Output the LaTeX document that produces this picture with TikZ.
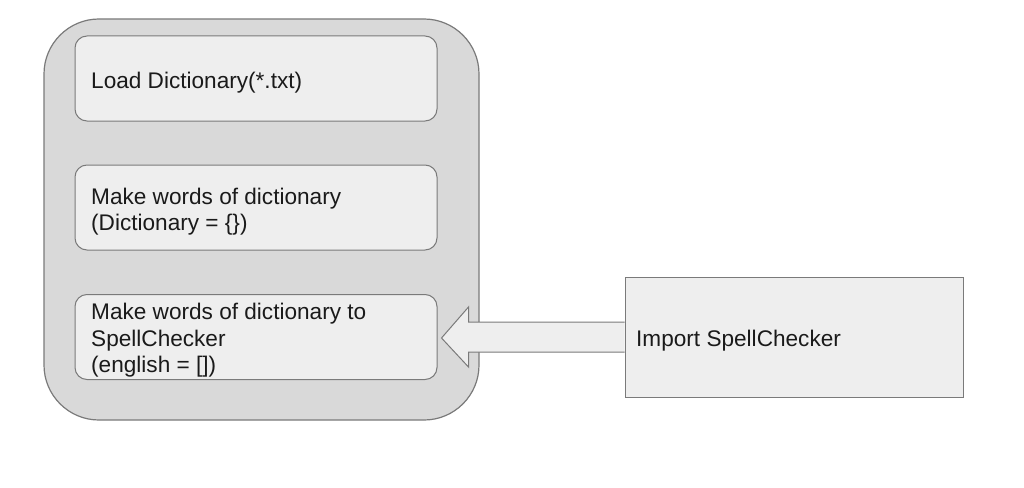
\documentclass[tikz,border=0pt]{standalone}
\usepackage{fontspec}
\setmainfont{Liberation Sans}
\usetikzlibrary{calc}
\definecolor{outerfill}{HTML}{D9D9D9}
\definecolor{innerfill}{HTML}{EEEEEE}
\definecolor{edge}{HTML}{7A7A7A}
\definecolor{txt}{HTML}{1A1A1A}
\begin{document}
\begin{tikzpicture}[x=1pt,y=-1pt,
  outerbox/.style={draw=edge,fill=outerfill,line width=1.2pt,rounded corners=55pt},
  stepbox/.style={draw=edge,fill=innerfill,line width=1pt,rounded corners=12pt,
    minimum width=362pt,minimum height=85pt,inner sep=0pt},
  boxtext/.style={font=\fontsize{22.6}{26.5}\selectfont,text=txt,align=left,anchor=west,inner sep=0pt},
  plainbox/.style={draw=edge,fill=innerfill,line width=1pt,
    minimum width=338pt,minimum height=120pt,inner sep=0pt},
  blockarrow/.style={draw=edge,fill=innerfill,line width=1pt,line join=miter}]
\useasboundingbox (0,0) rectangle (1024,487);
\fill[white] (0,0) rectangle (1024,487);
\draw[outerbox] (44,19) rectangle (479,420);
\node[stepbox] (b1) at (256,78.5) {};
\node[stepbox] (b2) at (256,207.5) {};
\node[stepbox] (b3) at (256,337) {};
\node[boxtext] (t1) at (91,82.5) {Load Dictionary(*.txt)};
\node[boxtext] (t2) at (91,211.5) {Make words of dictionary\\(Dictionary = \{\})};
\node[boxtext] (t3) at (91,340.5) {Make words of dictionary to\\SpellChecker\\(english = [])};
\node[plainbox] (imp) at (794,337) {};
\node[boxtext] (t4) at (636,340.5) {Import SpellChecker};
\draw[blockarrow]
  ($(imp.west)+(0,-15)$) -- ($(b3.east)+(31,-15)$) -- ($(b3.east)+(31,-30)$)
  -- ($(b3.east)+(4,1)$)
  -- ($(b3.east)+(31,30)$) -- ($(b3.east)+(31,15)$) -- ($(imp.west)+(0,15)$);
\end{tikzpicture}
\end{document}
